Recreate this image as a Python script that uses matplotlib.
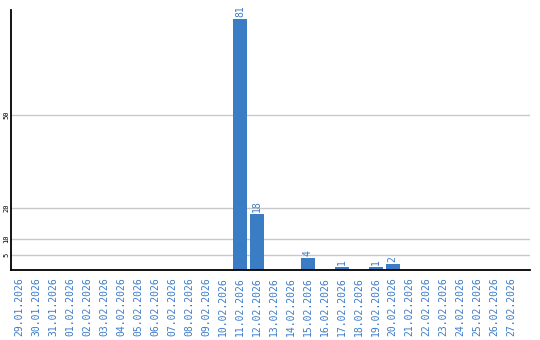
import matplotlib
matplotlib.use("Agg")
import matplotlib.pyplot as plt

dates = ["29.01.2026", "30.01.2026", "31.01.2026", "01.02.2026", "02.02.2026",
         "03.02.2026", "04.02.2026", "05.02.2026", "06.02.2026", "07.02.2026",
         "08.02.2026", "09.02.2026", "10.02.2026", "11.02.2026", "12.02.2026",
         "13.02.2026", "14.02.2026", "15.02.2026", "16.02.2026", "17.02.2026",
         "18.02.2026", "19.02.2026", "20.02.2026", "21.02.2026", "22.02.2026",
         "23.02.2026", "24.02.2026", "25.02.2026", "26.02.2026", "27.02.2026"]
counts = [0, 0, 0, 0, 0, 0, 0, 0, 0, 0, 0, 0, 0, 81, 18,
          0, 0, 4, 0, 1, 0, 1, 2, 0, 0, 0, 0, 0, 0, 0]
yticks = [5, 10, 20, 50]

blue = "#3b7dc4"
label_blue = "#3a7bc8"

fig = plt.figure(figsize=(5.4, 3.4), dpi=100)
ax = fig.add_axes([11 / 540, 1 - 270 / 340, 519 / 540, 260 / 340])

x = list(range(len(dates)))
ax.bar(x, counts, width=0.82, color=blue, zorder=3)

for xi, v in zip(x, counts):
    if v > 0:
        ax.text(xi, v + 0.6, str(v), rotation=90, ha="center", va="bottom",
                color=label_blue, fontsize=7, family="DejaVu Sans Mono")

ax.set_xlim(-0.5, 30.1)
ax.set_ylim(0, 83.9)
ax.set_yticks(yticks)
ax.set_yticklabels([str(t) for t in yticks], rotation=90, va="center",
                   fontsize=5, family="DejaVu Sans Mono")
ax.yaxis.grid(True, color="#c8c8c8", linewidth=1, zorder=0)
ax.tick_params(axis="y", length=0, pad=1)

ax.set_xticks(x)
ax.set_xticklabels(dates, rotation=90, fontsize=7, color=label_blue,
                   family="DejaVu Sans Mono")
ax.tick_params(axis="x", length=0, pad=5)

for s in ["top", "right"]:
    ax.spines[s].set_visible(False)
for s in ["left", "bottom"]:
    ax.spines[s].set_linewidth(1.3)
    ax.spines[s].set_color("black")
    ax.spines[s].set_zorder(4)

fig.savefig("out.png", dpi=100)
